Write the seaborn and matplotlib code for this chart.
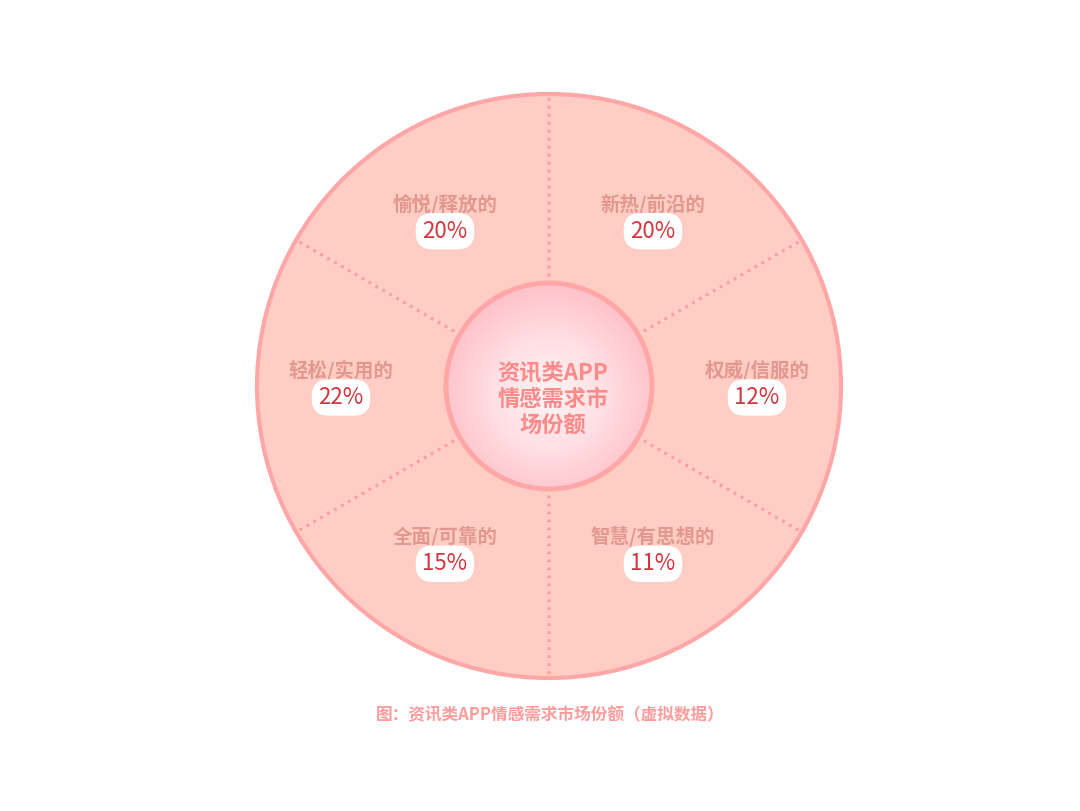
import numpy as np
import matplotlib
matplotlib.use('Agg')
import matplotlib.pyplot as plt
import seaborn as sns
from matplotlib.patches import Circle

# data (clockwise from 12 o'clock)
categories = ['新热/前沿的', '权威/信服的', '智慧/有思想的', '全面/可靠的', '轻松/实用的', '愉悦/释放的']
shares = [20, 12, 11, 15, 22, 20]
center_title = '资讯类APP\n情感需求市\n场份额'
caption = '图：资讯类APP情感需求市场份额（虚拟数据）'

sns.set_theme(style='white')
plt.rcParams['font.family'] = ['Noto Sans CJK SC', 'DejaVu Sans']

FILL = '#FFCDC3'
EDGE = '#FFA6A6'
DOT = '#FFA0A0'
LABEL = '#E29890'
PCT = '#D2363E'

cx, cy = 549, 425
R_OUT, R_IN = 292, 103

fig = plt.figure(figsize=(10.8, 8.11), dpi=100)
ax = fig.add_axes([0, 0, 1, 1])

# equal sectors, values only used for labels
wedges, _ = ax.pie([1] * len(categories), startangle=90, counterclock=False,
                   radius=R_OUT, center=(cx, cy),
                   wedgeprops=dict(facecolor=FILL, edgecolor='none'))

ax.add_patch(Circle((cx, cy), R_OUT, fill=False, ec=EDGE, lw=3, zorder=3))

# dotted dividers between sectors
for w in wedges:
    a = np.deg2rad(w.theta1)
    ax.plot([cx + R_IN * np.cos(a), cx + R_OUT * np.cos(a)],
            [cy + R_IN * np.sin(a), cy + R_OUT * np.sin(a)],
            color=DOT, lw=2.6, ls=(0, (0.01, 2.2)), dash_capstyle='round', zorder=2)

# labels, placed on an ellipse around the middle of each sector
for w, cat, val in zip(wedges, categories, shares):
    mid = np.deg2rad((w.theta1 + w.theta2) / 2)
    lx = cx + 208 * np.cos(mid)
    ly = cy + 2 + 192 * np.sin(mid)
    ax.text(lx, ly + 13.5, cat, ha='center', va='center', fontsize=14,
            fontweight='bold', color=LABEL, zorder=4)
    ax.text(lx, ly - 13.5, f'{val}%', ha='center', va='center', fontsize=16,
            color=PCT, zorder=4,
            bbox=dict(boxstyle='round,pad=0.3,rounding_size=0.75', fc='white', ec='none'))

# center bubble with radial gradient
n = 300
gx, gy = np.meshgrid(np.linspace(-1, 1, n), np.linspace(-1, 1, n))
dist = np.sqrt(gx ** 2 + (gy + 0.08) ** 2)
cmap = sns.blend_palette(['#FFF4F5', '#FFE0E4', '#FFC2CA'], as_cmap=True)
img = ax.imshow(dist, cmap=cmap, vmin=0, vmax=1.05, origin='lower',
                extent=(cx - R_IN, cx + R_IN, cy - R_IN, cy + R_IN), zorder=3)
clip = Circle((cx, cy), R_IN, transform=ax.transData)
img.set_clip_path(clip)
ax.add_patch(Circle((cx, cy), R_IN, fill=False, ec=EDGE, lw=3.5, zorder=4))
ax.text(cx + 4, cy - 13, center_title, ha='center', va='center', fontsize=16,
        fontweight='bold', color='#FF8A8A', linespacing=1.18, zorder=5)

ax.text(550, 811 - 715, caption, ha='center', va='center', fontsize=12,
        fontweight='bold', color='#FF9C9C')

ax.set_xlim(0, 1080)
ax.set_ylim(0, 811)
ax.set_aspect('equal')
ax.axis('off')

fig.savefig('out.png', dpi=100, facecolor='white')
